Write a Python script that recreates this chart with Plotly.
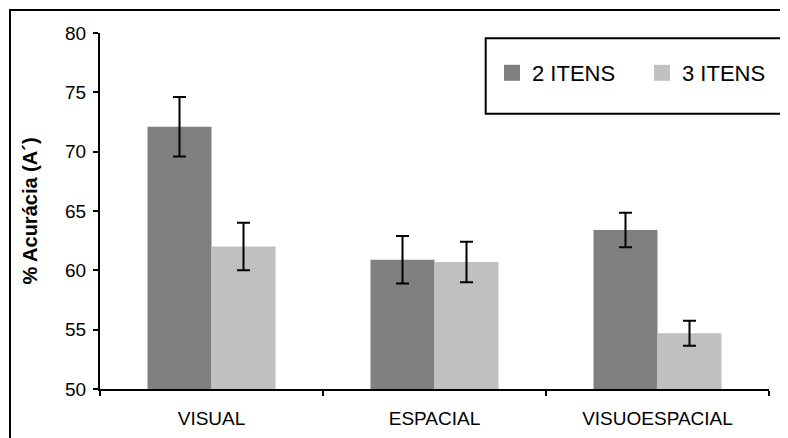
import plotly.graph_objects as go

categories = ["VISUAL", "ESPACIAL", "VISUOESPACIAL"]
series_names = ["2 ITENS", "3 ITENS"]
values_2 = [72.1, 60.9, 63.4]
errors_2 = [2.5, 2.0, 1.45]
values_3 = [62.0, 60.7, 54.7]
errors_3 = [2.0, 1.7, 1.05]
colors = ["#808080", "#c0c0c0"]
y_title = "% Acurácia (A´)"

# page body has an 8px margin; figure is sized to fit the window
OFF = 8
W, H = 788 - OFF, 438 - OFF
ML, MT = 100 - OFF, 33 - OFF
MR = W - (769 - OFF)
MB = H - (389 - OFF)
PW, PH = W - ML - MR, H - MT - MB


def px_x(p):
    return (p - OFF - ML) / PW


def px_y(p):
    return (H - MB - (p - OFF)) / PH


FONT = "Liberation Sans, Arial, sans-serif"

fig = go.Figure()
for name, vals, errs, col in [
    (series_names[0], values_2, errors_2, colors[0]),
    (series_names[1], values_3, errors_3, colors[1]),
]:
    fig.add_trace(go.Bar(
        x=categories, y=vals, name=name, marker=dict(color=col, line=dict(width=0)),
        error_y=dict(type="data", array=errs, visible=True, color="black",
                     thickness=2, width=6.5),
        showlegend=False,
    ))
    fig.add_trace(go.Scatter(
        x=[None], y=[None], mode="markers", name=name,
        marker=dict(symbol="square", size=16, color=col),
        showlegend=True,
    ))

fig.update_layout(
    width=W, height=H,
    margin=dict(l=ML, r=MR, t=MT, b=MB, autoexpand=False),
    paper_bgcolor="white", plot_bgcolor="white",
    barmode="group", bargap=0.426, bargroupgap=0,
    font=dict(family=FONT, color="black", size=19),
    showlegend=True,
    legend=dict(
        orientation="h", x=px_x(492), y=px_y(52), xanchor="left", yanchor="top",
        font=dict(size=22, family=FONT, color="black"),
        bgcolor="rgba(0,0,0,0)", borderwidth=0,
        entrywidth=105, entrywidthmode="pixels",
    ),
    xaxis=dict(
        showline=True, linecolor="black", linewidth=2,
        ticks="outside", tickson="boundaries", ticklen=5, tickwidth=2, tickcolor="black",
        showgrid=False, tickfont=dict(size=19), ticklabelstandoff=11,
    ),
    yaxis=dict(
        range=[50, 80], dtick=5, tick0=50,
        showline=True, linecolor="black", linewidth=2,
        ticks="outside", ticklen=5, tickwidth=2, tickcolor="black",
        showgrid=False, zeroline=False, tickfont=dict(size=19),
        ticklabelstandoff=3,
        title=dict(text="<b>" + y_title + "</b>", font=dict(size=20), standoff=22),
    ),
    shapes=[
        dict(type="rect", xref="paper", yref="paper",
             x0=px_x(10), x1=px_x(800), y0=px_y(10), y1=px_y(450),
             line=dict(color="black", width=2), fillcolor="rgba(0,0,0,0)", layer="above"),
        dict(type="rect", xref="paper", yref="paper",
             x0=px_x(485.7), x1=px_x(782.7), y0=px_y(113.7), y1=px_y(38.3),
             line=dict(color="black", width=2), fillcolor="white", layer="below"),
    ],
)

fig.write_html("out.html")
